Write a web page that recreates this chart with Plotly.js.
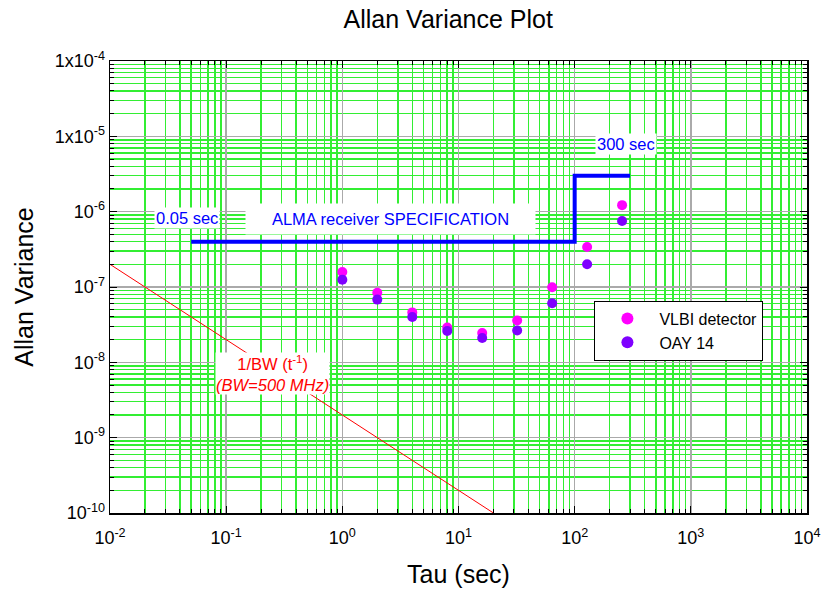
<!DOCTYPE html>
<html>
<head>
<meta charset="utf-8">
<script src="https://cdn.plot.ly/plotly-3.0.1.min.js"></script>
<style>html,body{margin:0;padding:0;background:#fff;}#chart{width:824px;height:591px;}</style>
</head>
<body>
<div id="chart"></div>
<script>
// Data
var tau = [1, 2, 4, 8, 16, 32, 64, 128, 256];
var vlbiDetector = [1.58e-7, 8.4e-8, 4.6e-8, 2.9e-8, 2.45e-8, 3.6e-8, 9.9e-8, 3.4e-7, 1.22e-6];
var oay14 = [1.25e-7, 6.8e-8, 4.0e-8, 2.6e-8, 2.1e-8, 2.65e-8, 6.1e-8, 2.0e-7, 7.5e-7];
var specTau = [0.05, 100, 300];
var specValue = [4e-7, 3e-6, 3e-6];
var bwTau = [0.01, 20];
var bwValue = [2e-7, 1e-10];
var xTickVals = [1e-2, 1e-1, 1e0, 1e1, 1e2, 1e3, 1e4];
var xTickText = ['10<sup>-2</sup>', '10<sup>-1</sup>', '10<sup>0</sup>', '10<sup>1</sup>', '10<sup>2</sup>', '10<sup>3</sup>', '10<sup>4</sup>'];
var yTickVals = [1e-10, 1e-9, 1e-8, 1e-7, 1e-6, 1e-5, 1e-4];
var yTickText = ['10<sup>-10</sup>', '10<sup>-9</sup>', '10<sup>-8</sup>', '10<sup>-7</sup>', '10<sup>-6</sup>', '1x10<sup>-5</sup>', '1x10<sup>-4</sup>'];

var font = 'Liberation Sans, Arial, sans-serif';
var green = '#33ee33';

var traces = [
  {x: bwTau, y: bwValue, mode: 'lines', line: {color: '#ff0000', width: 1}, showlegend: false, hoverinfo: 'skip'},
  {x: specTau, y: specValue, mode: 'lines', line: {color: '#0000ff', width: 4, shape: 'hv'}, showlegend: false, hoverinfo: 'skip'},
  {x: tau, y: vlbiDetector, mode: 'markers', name: 'VLBI detector', marker: {color: '#ff00ff', size: 10}},
  {x: tau, y: oay14, mode: 'markers', name: 'OAY 14', marker: {color: '#7f00ff', size: 10}}
];

var axisCommon = {
  type: 'log',
  showline: true, linecolor: '#000', linewidth: 1.5, mirror: 'ticks',
  ticks: 'inside', ticklen: 7, tickcolor: '#000', tickwidth: 1,
  showgrid: true, gridcolor: '#aaaaaa', gridwidth: 1.5,
  zeroline: false,
  tickfont: {family: font, size: 18, color: '#000'},
  minor: {dtick: 'D1', showgrid: true, gridcolor: green, gridwidth: 1.5, ticks: 'inside', ticklen: 4, tickcolor: '#000'}
};

var layout = {
  width: 824, height: 591,
  margin: {l: 110, r: 17, t: 61, b: 78},
  paper_bgcolor: '#fff', plot_bgcolor: '#fff',
  font: {family: font, color: '#000'},
  title: {text: 'Allan Variance Plot', font: {family: font, size: 25, color: '#000'}, xref: 'container', x: 0.544, xanchor: 'center', yref: 'container', y: 0.968, yanchor: 'middle'},
  xaxis: Object.assign({}, axisCommon, {
    range: [-2, 4], tickvals: xTickVals, ticktext: xTickText, ticklabelstandoff: 8,
    title: {text: 'Tau (sec)', font: {family: font, size: 25, color: '#000'}, standoff: 18}
  }),
  yaxis: Object.assign({}, axisCommon, {
    range: [-10, -4], tickvals: yTickVals, ticktext: yTickText,
    title: {text: 'Allan Variance', font: {family: font, size: 25, color: '#000'}, standoff: 14}
  }),
  legend: {
    x: 0.695, y: 0.47, xanchor: 'left', yanchor: 'top',
    bgcolor: '#fff', bordercolor: '#000', borderwidth: 1,
    font: {family: font, size: 16, color: '#000'},
    itemsizing: 'constant', itemwidth: 54
  },
  annotations: [
    {xref: 'x', yref: 'y', x: -1.34, y: -6.08, text: '0.05 sec', showarrow: false, font: {family: font, size: 16.5, color: '#0000ff'}, bgcolor: '#fff', borderpad: 1},
    {xref: 'x', yref: 'y', x: 0.418, y: -6.103, text: 'ALMA receiver SPECIFICATION', showarrow: false, font: {family: font, size: 16.5, color: '#0000ff'}, bgcolor: '#fff', width: 287, height: 28},
    {xref: 'x', yref: 'y', x: 2.44, y: -5.097, text: '300 sec', showarrow: false, font: {family: font, size: 16.5, color: '#0000ff'}, bgcolor: '#fff', borderpad: 1},
    {xref: 'x', yref: 'y', x: -0.597, y: -8.143, text: '1/BW (t<sup>-1</sup>)<br><i>(BW=500 MHz)</i>', showarrow: false, font: {family: font, size: 16.5, color: '#ff0000'}, bgcolor: '#fff', borderpad: 0}
  ]
};

Plotly.newPlot('chart', traces, layout, {displayModeBar: false, staticPlot: true});
</script>
</body>
</html>
